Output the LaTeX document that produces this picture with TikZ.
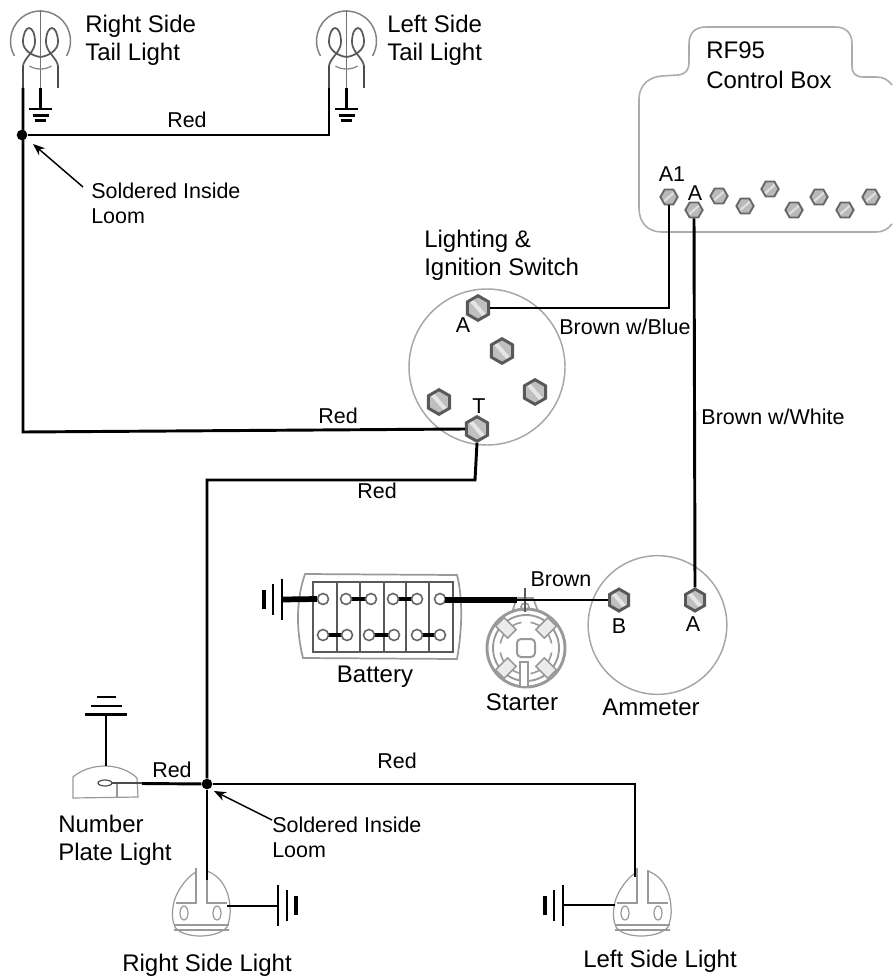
\documentclass[tikz,border=0pt]{standalone}
\usepackage{fontspec}
\setmainfont{Liberation Sans}
\usetikzlibrary{shapes.geometric,arrows.meta}
\tikzset{
  x=0.75pt,y=-0.75pt,
  wire/.style={line width=2.2pt,black,line join=miter},
  thinwire/.style={line width=1.5pt,black},
  gl/.style={draw=gray!80,line width=0.9pt},
  gk/.style={draw=gray!80,line width=1.5pt},
  tl/.style={draw=black!65,line width=1.3pt},
  big/.style={font=\fontsize{18}{21}\selectfont,align=left,inner sep=0pt},
  small/.style={font=\fontsize{16.1}{18.5}\selectfont,align=left,inner sep=0pt},
  note/.style={-{Stealth[length=9pt,width=7pt]},line width=1.1pt,black},
  junction/.style={circle,fill=black,inner sep=0pt,minimum size=8pt},
  screwbig/.style={regular polygon,regular polygon sides=6,shape border rotate=30,draw=black!65,line width=2.2pt,fill=gray!50,inner sep=0pt,minimum size=18.5pt,
     path picture={\draw[gray!20,line width=3pt] (path picture bounding box.north west) -- (path picture bounding box.south east);}},
  screwsmall/.style={regular polygon,regular polygon sides=6,draw=black!60,line width=1.4pt,fill=gray!55,inner sep=0pt,minimum size=13pt,
     path picture={\draw[gray!25,line width=1.6pt] (path picture bounding box.south west) -- (path picture bounding box.north east);}},
  pics/taillight/.style={code={
    \draw[tl,draw=black!50,line width=1.1pt] (-26,15) arc[start angle=150,delta angle=240,radius=30];
    \draw[tl,draw=black!55,line width=1.1pt] (0,-31) -- (0,47);
    \draw[tl] (-17.5,25) .. controls (-16.5,17) and (-5.5,11) .. (-5.5,1) .. controls (-5.5,-8) and (-8.5,-13) .. (-11.5,-13) .. controls (-14.5,-13) and (-17.5,-7) .. (-17.5,1) .. controls (-17.5,9) and (-8.5,15) .. (0,16);
    \draw[tl] (17.5,25) .. controls (16.5,17) and (5.5,11) .. (5.5,1) .. controls (5.5,-8) and (8.5,-13) .. (11.5,-13) .. controls (14.5,-13) and (17.5,-7) .. (17.5,1) .. controls (17.5,9) and (8.5,15) .. (0,16);
    \draw[tl,draw=black!45,line width=1pt] (-11,25) .. controls (-5,29) and (5,29) .. (11,25);
    \draw[tl,draw=black!70,line width=2.2pt] (-17.5,25) -- (-17.5,47);
    \draw[tl,draw=black!70,line width=2.2pt] (17.5,25) -- (17.5,47);
    \coordinate (-lead) at (-17.5,47);
    \draw[wire] (0,47) -- (0,68);
    \draw[line width=2.1pt] (-12,68) -- (11,68);
    \draw[line width=2.1pt] (-8,74.5) -- (8,74.5);
    \draw[line width=2.1pt] (-6,79.5) -- (5,79.5);
  }},
  pics/sidelight/.style={code={
    \draw[gl] (-34,37) .. controls (-33,25) and (-22,8) .. (-11,2);
    \draw[gl] (0,1) .. controls (14,6) and (22,20) .. (23,37) .. controls (24,44) and (22,52) .. (20,57) .. controls (10,69) and (-24,69) .. (-32,57) .. controls (-35,50) and (-35,44) .. (-34,37);
    \draw[gl] (-33,55) -- (22,55);
    \draw[gl] (-33,60) -- (22,60);
    \draw[gl] (-11,-2) -- (-11,33) -- (-31,33);
    \draw[gl] (0,0) -- (0,33) -- (20,33);
    \draw[gl] (-23,43) ellipse[x radius=4,y radius=7];
    \draw[gl] (10,43) ellipse[x radius=4,y radius=7];
  }},
  pics/gndh/.style={code={
    \draw[line width=2.2pt] (0,-21) -- (0,20);
    \draw[line width=2.2pt] (9,-16) -- (9,15);
    \draw[line width=2.6pt] (18,-10) -- (18,9);
  }},
  pics/gndhl/.style={code={
    \draw[line width=2.2pt] (0,-21) -- (0,20);
    \draw[line width=2.2pt] (-9,-16) -- (-9,15);
    \draw[line width=2.6pt] (-18,-10) -- (-18,9);
  }},
}
\begin{document}
\begin{tikzpicture}
\useasboundingbox (0,0) rectangle (892,977);

% ---------- tail lights
\pic (rt) at (40.5,41) {taillight};
\pic (lt) at (346.5,41) {taillight};
\node[big,anchor=north west] (rtl) at (85,15) {Right Side\\Tail Light};
\node[big,anchor=north west] (ltl) at (387,15) {Left Side\\Tail Light};

% ---------- control box
\draw[draw=gray!65,line width=1.2pt] (892,85) .. controls (887,79) and (883,77) .. (876,77) -- (864,77)
  .. controls (856,77) and (852,74) .. (852,66) -- (852,44) .. controls (852,33) and (846,27) .. (835,27)
  -- (706,27) .. controls (695,27) and (689,33) .. (689,44) -- (689,62) .. controls (689,70) and (686,74) .. (678,75)
  -- (662,76) .. controls (648,77) and (639,86) .. (639,99) -- (639,208) .. controls (639,223) and (648,232) .. (662,232)
  -- (876,232) .. controls (883,232) and (888,229) .. (892,224);
\node[big,anchor=north west,font=\fontsize{18}{22.5}\selectfont] (cbl) at (706,41) {RF95\\Control Box};
\node[screwsmall] (cbA1) at (669,197) {};
\node[screwsmall] (cbA) at (694,210) {};
\node[screwsmall] (s3) at (719,196) {};
\node[screwsmall] (s4) at (745,206) {};
\node[screwsmall] (s5) at (770,189) {};
\node[screwsmall] (s6) at (794,210) {};
\node[screwsmall] (s7) at (819,197) {};
\node[screwsmall] (s8) at (845,210) {};
\node[screwsmall] (s9) at (871,197) {};
\node[small] (lA1) at (672,174) {A1};
\node[small] (lAc) at (695,193) {A};

% ---------- switch
\node[draw=gray!70,line width=1.1pt,circle,minimum size=117pt,inner sep=0pt] (sw) at (487,367) {};
\node[screwbig] (swA) at (478,308) {};
\node[screwbig] (sw2) at (502,351) {};
\node[screwbig] (sw3) at (535,392) {};
\node[screwbig] (sw4) at (439,402) {};
\node[screwbig] (swT) at (477,429) {};
\node[small] (lswA) at (463,325) {A};
\node[small] (lswT) at (479,406) {T};
\node[big,anchor=north west] (swl) at (424,230) {Lighting \&\\Ignition Switch};

% ---------- ammeter
\node[draw=gray!70,line width=1.1pt,circle,minimum size=104pt,inner sep=0pt] (am) at (657.5,625) {};
\node[screwbig,minimum size=16.5pt] (amB) at (619,600) {};
\node[screwbig,minimum size=16.5pt] (amA) at (695,600) {};
\node[small] (lamB) at (619,626) {B};
\node[small] (lamA) at (693,624) {A};
\node[big] (aml) at (651,707) {Ammeter};

% ---------- battery
\draw[gk,line width=1.3pt] (305,574) -- (457,575) .. controls (461,590) and (464,620) .. (457,659) -- (303,658) .. controls (296,630) and (296,600) .. (305,574) -- cycle;
\draw[gk,draw=black!65,line width=1pt] (313,582) rectangle (453,652);
\foreach \x in {337,360,384,406,429} \draw[draw=black!65,line width=0.9pt] (\x,583) -- (\x,651);
\foreach \a/\b in {346/371,393/417} \draw[line width=2.6pt] (\a,599) -- (\b,599);
\foreach \a/\b in {323/347,369/394,417/440} \draw[line width=2.6pt] (\a,635) -- (\b,635);
\foreach \x/\y in {323/599,346/599,371/599,393/599,417/599,440/599,323/635,347/635,369/635,394/635,417/635,440/635}
  \draw[draw=black!60,line width=1.2pt,fill=white] (\x,\y) circle[radius=5.5];
\coordinate (batNeg) at (317,599);
\coordinate (batPos) at (445,600);
\pic at (282,599.5) {gndhl};
\coordinate (bgc) at (282,599.5);
\node[big] (batl) at (375,677) {Battery};

% ---------- starter
\draw[gk,line width=2.2pt] (526,648) circle[radius=39];
\draw[gk,line width=1.4pt] (526,648) circle[radius=33];
\foreach \a in {10,100,190,280}
  \draw[gk,line width=1.2pt] (526,648) ++(\a:26) arc[start angle=\a,delta angle=70,radius=26];
\foreach \a in {45,135,225,315}
  \draw[gk,line width=1.2pt,fill=gray!15,rotate around={\a:(526,648)}] (546,642) rectangle (563,654);
\draw[gk,line width=1.5pt,rounded corners=3pt] (517,639) rectangle (535,657);
\draw[gk,fill=white,line width=1.2pt] (520,662) rectangle (528,687);
\draw[gk,line width=1.2pt] (512,613) -- (515,603) -- (518,598) -- (533,598) -- (538,611);
\draw[gk,line width=1.2pt] (525,607) circle[radius=4];
\draw[draw=black!65,line width=1.2pt] (525,588) -- (525,612);
\node[big] (stl) at (522,702) {Starter};
\coordinate (stT) at (517,600);

% ---------- lower lights
\draw[gl] (73,798) -- (73,777) .. controls (82,769) and (95,766) .. (105,766) .. controls (118,766) and (130,771) .. (137,778) -- (138,797) -- cycle;
\draw[gl,draw=gray!60!black] (105,783) ellipse[x radius=7,y radius=3];
\draw[gl] (117,783) -- (117,798);
\draw[gl,line width=1.2pt,draw=gray!60!black] (112,783) -- (142,783);
\coordinate (npT) at (142,783.5);
\coordinate (npG) at (106,766);
\draw[wire] (npG) -- (106,714);
\draw[line width=2.4pt] (85,714.5) -- (127,714.5);
\draw[line width=2.2pt] (91,706) -- (122,706);
\draw[line width=2.2pt] (97,697) -- (116,697);
\node[big,anchor=west] (npl) at (58,840) {Number\\Plate Light};

\pic (rs) at (207,870) {sidelight};
\pic (ls) at (648,870) {sidelight};
\coordinate (rsT) at (207,880);
\coordinate (lsT) at (635,877);
\coordinate (rsG) at (227,906);
\coordinate (lsG) at (615,905);
\pic at (278,906) {gndh};
\coordinate (rsgc) at (278,906);
\pic at (563,905.5) {gndhl};
\coordinate (lsgc) at (563,905);
\node[big] (rsl) at (207,965) {Right Side Light};
\node[big] (lsl) at (660,961) {Left Side Light};

% ---------- junctions
\node[junction] (j1) at (22,135) {};
\node[junction] (j2) at (207,784) {};
\coordinate (ltk) at (329,135);
\coordinate (c1) at (23,432);
\coordinate (c2) at (475,480);
\coordinate (c3) at (207,480);
\coordinate (c4) at (635,784);

% ---------- wires
\draw[wire] (rt-lead) -- (23,135) -- (c1) -- (swT.west);
\draw[wire] (j1) -- (ltk) -- (lt-lead);
\draw[wire] (swT.south) -- (c2) -- (c3) -- (j2);
\draw[wire] (j2) -- (npT);
\draw[wire] (j2) -- (rsT);
\draw[wire] (j2) -- (c4) -- (lsT);
\draw[wire] (swA.east) -| (cbA1.south);
\draw[wire] (cbA.south) -- (amA.north);
\draw[line width=4.3pt] (bgc) -- (batNeg);
\draw[line width=5.2pt] (batPos) -- (stT);
\draw[thinwire] (stT) -- (amB.west);
\draw[wire] (rsG) -- (rsgc);
\draw[wire] (lsG) -- (lsgc);

% ---------- wire labels
\node[small] (r1) at (187,120) {Red};
\node[small] (r2) at (338,416) {Red};
\node[small] (r3) at (377,491) {Red};
\node[small] (r4) at (172,770) {Red};
\node[small] (r5) at (397,761) {Red};
\node[small] (bb) at (625,327) {Brown w/Blue};
\node[small] (bw) at (773,417) {Brown w/White};
\node[small] (br) at (561,579) {Brown};

\node[small,anchor=north west] (sol1) at (91,183) {Soldered Inside\\Loom};
\node[small,anchor=north west] (sol2) at (272,817) {Soldered Inside\\Loom};
\coordinate (a1s) at (83,187);
\coordinate (a1e) at (33,144);
\coordinate (a2s) at (272,820);
\coordinate (a2e) at (214,791);
\draw[note] (a1s) -- (a1e);
\draw[note] (a2s) -- (a2e);
\end{tikzpicture}
\end{document}
